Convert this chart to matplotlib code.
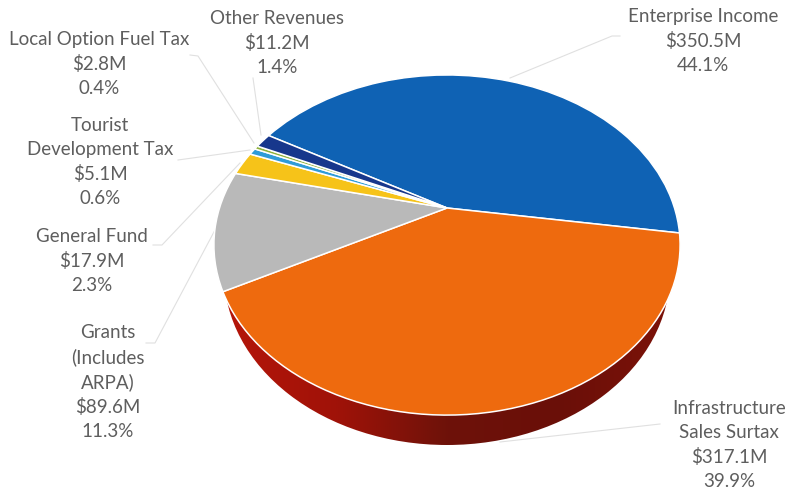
import numpy as np
import matplotlib
matplotlib.use("Agg")
import matplotlib.pyplot as plt
from matplotlib.patches import Ellipse
from matplotlib.transforms import Transform
from matplotlib.colors import LinearSegmentedColormap

labels = ["Enterprise Income", "Infrastructure\nSales Surtax", "Grants\n(Includes\nARPA)", "General Fund",
          "Tourist\nDevelopment Tax", "Local Option Fuel Tax", "Other Revenues"]
revenue = [350.5, 317.1, 89.6, 17.9, 5.1, 2.8, 11.2]
percent = [44.1, 39.9, 11.3, 2.3, 0.6, 0.4, 1.4]
colors = ["#0f62b4", "#ee6a0e", "#b9b9b9", "#f6c319", "#2f9bd8", "#8fb13a", "#17378c"]

label_x = [703, 729, 108, 92, 100, 99, 277]
label_y = [41, 445, 382, 261, 162, 64, 43]
leaders = [
    [(620, 36), (612, 36), (510, 78)],
    [(660, 424), (500, 442)],
    [(146, 343), (155, 343), (215, 230)],
    [(153, 245), (162, 245), (240, 163)],
    [(178, 160), (250, 150)],
    [(190, 55), (198, 56), (254, 143)],
    [(253, 78), (261, 135)],
]


class Tilt(Transform):
    # perspective view of the unit-circle pie, apex at (cx, cy) in pixels
    input_dims = 2
    output_dims = 2
    has_inverse = False

    def __init__(self, cx, cy, a, b, k):
        super().__init__()
        self.cx, self.cy, self.a, self.b, self.k = cx, cy, a, b, k

    def transform_non_affine(self, values):
        x, y = np.asarray(values).T
        d = 1 + self.k * y
        return np.column_stack([self.cx + self.a * x / d, self.cy - self.b * y / d])


fig = plt.figure(figsize=(7.88, 4.91), dpi=100)
ax = fig.add_axes([0, 0, 1, 1])

wedges, _ = ax.pie(revenue, colors=colors, startangle=150.3, counterclock=False,
                   wedgeprops=dict(edgecolor="white", linewidth=1.1))
tilt = Tilt(447, 208, 227.5, 162, 0.2176)
for w in wedges:
    w.set_transform(tilt + ax.transData)
    w.set_zorder(3)

ax.set_aspect("auto")
ax.axis("off")

# side wall under the front of the pie
wall_cmap = LinearSegmentedColormap.from_list("wall", ["#b5160a", "#a01208", "#6e120a", "#6a0f08", "#7c1208"])
wall = Ellipse((447, 273), 446, 344, facecolor="none", edgecolor="none", transform=ax.transData)
ax.add_patch(wall)
im = ax.imshow(np.linspace(0, 1, 256).reshape(1, -1), cmap=wall_cmap, extent=(224, 670, 445, 101),
               aspect="auto", zorder=2)
im.set_clip_path(wall)
ax.set_xlim(0, 788)
ax.set_ylim(491, 0)

for pts in leaders:
    xs, ys = zip(*pts)
    ax.plot(xs, ys, color="#e0e0e0", lw=0.8, zorder=1)

for name, rev, pct, x, y in zip(labels, revenue, percent, label_x, label_y):
    ax.text(x, y, f"{name}\n${rev}M\n{pct}%", ha="center", va="center", family="Lato",
            fontsize=13.5, color="#5e5e5e", linespacing=1.47, zorder=4)

fig.savefig("out.png", dpi=100)
